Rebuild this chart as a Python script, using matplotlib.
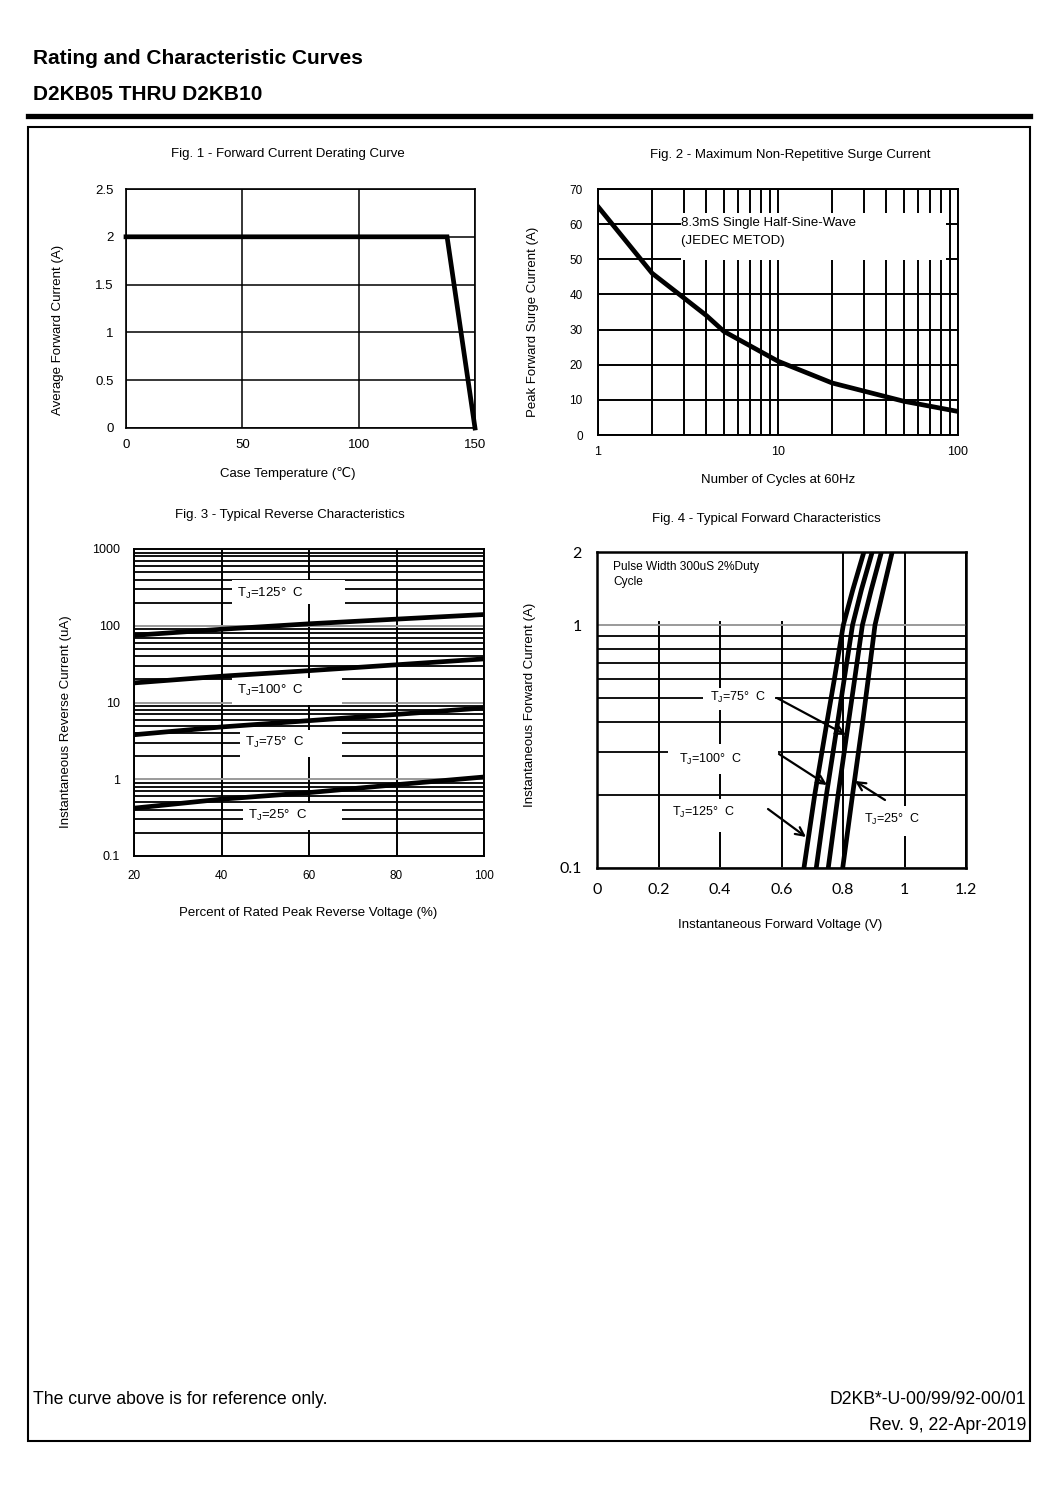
import matplotlib
matplotlib.use("Agg")
import matplotlib.pyplot as plt
from matplotlib.patches import Rectangle
from matplotlib.lines import Line2D
from matplotlib.ticker import FixedLocator, FixedFormatter, LogLocator, NullFormatter

plt.rcParams['font.family'] = ['Liberation Sans', 'DejaVu Sans']
plt.rcParams['mathtext.fontset'] = 'custom'
plt.rcParams['mathtext.rm'] = 'Liberation Sans'

# ---------------- data ----------------
fig1_temp = [0, 138, 150]
fig1_current = [2.0, 2.0, 0.0]

fig2_cycles = [1, 2, 3, 4, 5, 10, 20, 50, 100]
fig2_current = [65, 46, 39, 34, 29.5, 21, 14.8, 9.6, 6.7]

fig3_pct = [20, 40, 60, 80, 100]
fig3_ir_125 = [75, 90, 106, 122, 140]
fig3_ir_100 = [18, 22, 26, 31, 37]
fig3_ir_75 = [3.8, 4.8, 5.8, 7.0, 8.5]
fig3_ir_25 = [0.42, 0.55, 0.67, 0.85, 1.07]

fig4_if = [0.1, 0.2, 0.4, 0.6, 1.0, 1.4, 2.0]
fig4_vf_125 = [0.673, 0.708, 0.748, 0.772, 0.801, 0.832, 0.868]
fig4_vf_100 = [0.713, 0.746, 0.783, 0.804, 0.831, 0.860, 0.895]
fig4_vf_75 = [0.752, 0.784, 0.818, 0.838, 0.863, 0.892, 0.925]
fig4_vf_25 = [0.799, 0.831, 0.864, 0.882, 0.904, 0.931, 0.960]

fig1_xticks = [0, 50, 100, 150]
fig1_yticks = [0, 0.5, 1, 1.5, 2, 2.5]
fig1_yticklabels = ["0", "0.5", "1", "1.5", "2", "2.5"]
fig2_xticks = [1, 10, 100]
fig2_yticks = [0, 10, 20, 30, 40, 50, 60, 70]
fig3_xticks = [20, 40, 60, 80, 100]
fig3_yticks = [0.1, 1, 10, 100, 1000]
fig3_yticklabels = ["0.1", "1", "10", "100", "1000"]
fig4_xticks = [0, 0.2, 0.4, 0.6, 0.8, 1.0, 1.2]
fig4_xticklabels = ["0", "0.2", "0.4", "0.6", "0.8", "1", "1.2"]
fig4_yticks = [0.1, 1, 2]
fig4_yticklabels = ["0.1", "1", "2"]

# ---------------- figure ----------------
W, H = 1060, 1498
fig = plt.figure(figsize=(W / 100, H / 100), dpi=100)


def fx(px):
    return px / W


def fy(py):
    return 1 - py / H


def add_ax(box):
    l, t, r, b = box
    return fig.add_axes([l / W, 1 - b / H, (r - l) / W, (b - t) / H])


def axfrac(box, px, py):
    l, t, r, b = box
    return ((px - l) / (r - l), (b - py) / (b - t))


def white_box(ax, box, x0, y0, x1, y1):
    fx0, fy1 = axfrac(box, x0, y1)
    fx1, fy0 = axfrac(box, x1, y0)
    ax.add_patch(Rectangle((fx0, fy1), fx1 - fx0, fy0 - fy1, transform=ax.transAxes,
                           facecolor='white', edgecolor='none', zorder=1.5))


def tj(t):
    return r"T$_{\mathregular{J}}$=" + t + "°  C"


BLACK = '#000000'
GRAY = '#9a9a9a'
CURVE_LW = 3.4

# page header
fig.text(fx(33), fy(58), "Rating and Characteristic Curves", fontsize=15,
         fontweight='bold', va='center', ha='left')
fig.text(fx(33), fy(94), "D2KB05 THRU D2KB10", fontsize=15,
         fontweight='bold', va='center', ha='left')
fig.add_artist(Line2D([fx(28), fx(1030)], [fy(115.5), fy(115.5)], lw=3.8, color='k'))
fig.add_artist(Rectangle((fx(28), fy(1441)), (1030 - 28) / W, (1441 - 127) / H,
                         fill=False, lw=1.5, edgecolor='k', transform=fig.transFigure))

# footer
fig.text(fx(33), fy(1400), "The curve above is for reference only.", fontsize=12.7,
         va='center', ha='left')
fig.text(fx(1026), fy(1400), "D2KB*-U-00/99/92-00/01", fontsize=12.7, va='center', ha='right')
fig.text(fx(1026), fy(1426), "Rev. 9, 22-Apr-2019", fontsize=12.7, va='center', ha='right')

# ---------------- Fig 1 ----------------
box1 = (126, 189, 475, 428)
ax1 = add_ax(box1)
ax1.set_axisbelow(True)
ax1.plot(fig1_temp, fig1_current, color='k', lw=CURVE_LW, solid_joinstyle='miter', zorder=3,
         clip_on=False)
ax1.set_xlim(0, 150)
ax1.set_ylim(0, 2.5)
ax1.xaxis.set_major_locator(FixedLocator(fig1_xticks))
ax1.yaxis.set_major_locator(FixedLocator(fig1_yticks))
ax1.yaxis.set_major_formatter(FixedFormatter(fig1_yticklabels))
ax1.grid(True, color=BLACK, lw=1.1)
ax1.tick_params(length=0, labelsize=9.5)
ax1.tick_params(axis='y', pad=9)
ax1.tick_params(axis='x', pad=8)
for s in ax1.spines.values():
    s.set_linewidth(1.2)
fig.text(fx(288), fy(154), "Fig. 1 - Forward Current Derating Curve", fontsize=9.5,
         ha='center', va='center')
fig.text(fx(288), fy(474), "Case Temperature (℃)", fontsize=9.5, ha='center', va='center')
fig.text(fx(58), fy(330), "Average Forward Current (A)", fontsize=9.5, ha='center',
         va='center', rotation=90)

# ---------------- Fig 2 ----------------
box2 = (598, 189, 958, 435)
ax2 = add_ax(box2)
ax2.set_axisbelow(True)
ax2.set_xscale('log')
ax2.plot(fig2_cycles, fig2_current, color='k', lw=CURVE_LW, zorder=3)
ax2.set_xlim(1, 100)
ax2.set_ylim(0, 70)
ax2.xaxis.set_major_locator(FixedLocator(fig2_xticks))
ax2.xaxis.set_major_formatter(FixedFormatter([str(v) for v in fig2_xticks]))
ax2.xaxis.set_minor_locator(LogLocator(base=10, subs=[2, 3, 4, 5, 6, 7, 8, 9]))
ax2.xaxis.set_minor_formatter(NullFormatter())
ax2.yaxis.set_major_locator(FixedLocator(fig2_yticks))
ax2.grid(True, which='both', color=BLACK, lw=1.4)
ax2.tick_params(which='both', length=0, labelsize=8.5)
ax2.tick_params(axis='y', pad=11)
ax2.tick_params(axis='x', pad=8, labelsize=9)
for s in ax2.spines.values():
    s.set_linewidth(1.4)
white_box(ax2, box2, 681, 213, 946, 260)
ax2.text(*axfrac(box2, 681, 223), "8.3mS Single Half-Sine-Wave", transform=ax2.transAxes,
         fontsize=9.5, ha='left', va='center', zorder=4)
ax2.text(*axfrac(box2, 681, 241), "(JEDEC METOD)", transform=ax2.transAxes,
         fontsize=9.5, ha='left', va='center', zorder=4)
fig.text(fx(790), fy(155), "Fig. 2 - Maximum Non-Repetitive Surge Current", fontsize=9.5,
         ha='center', va='center')
fig.text(fx(778), fy(480), "Number of Cycles at 60Hz", fontsize=9.5, ha='center', va='center')
fig.text(fx(533), fy(322), "Peak Forward Surge Current (A)", fontsize=9.5, ha='center',
         va='center', rotation=90)

# ---------------- Fig 3 ----------------
box3 = (134, 549, 484, 856)
ax3 = add_ax(box3)
ax3.set_axisbelow(True)
ax3.set_yscale('log')
for vals in (fig3_ir_125, fig3_ir_100, fig3_ir_75, fig3_ir_25):
    ax3.plot(fig3_pct, vals, color='k', lw=CURVE_LW, zorder=3)
ax3.set_xlim(20, 100)
ax3.set_ylim(0.1, 1000)
ax3.xaxis.set_major_locator(FixedLocator(fig3_xticks))
ax3.yaxis.set_major_locator(FixedLocator(fig3_yticks))
ax3.yaxis.set_major_formatter(FixedFormatter(fig3_yticklabels))
ax3.yaxis.set_minor_locator(LogLocator(base=10, subs=[2, 3, 4, 5, 6, 7, 8, 9]))
ax3.yaxis.set_minor_formatter(NullFormatter())
ax3.grid(True, axis='x', which='major', color=BLACK, lw=1.4)
ax3.grid(True, axis='y', which='major', color=GRAY, lw=1.4)
ax3.grid(True, axis='y', which='minor', color=BLACK, lw=1.3)
ax3.tick_params(which='both', length=0, labelsize=9)
ax3.tick_params(axis='y', pad=10)
ax3.tick_params(axis='x', pad=10, labelsize=8.5)
for s in ax3.spines.values():
    s.set_linewidth(1.4)
fig3_labels = [("125", 232, 580, 345, 604, 237, 593),
               ("100", 232, 678, 342, 705, 237, 690),
               ("75", 240, 730, 342, 757, 245, 742),
               ("25", 243, 803, 342, 830, 248, 815)]
for t, x0, y0, x1, y1, tx, ty in fig3_labels:
    white_box(ax3, box3, x0, y0, x1, y1)
    ax3.text(*axfrac(box3, tx, ty), tj(t), transform=ax3.transAxes, fontsize=9.5,
             ha='left', va='center', zorder=4)
fig.text(fx(290), fy(515), "Fig. 3 - Typical Reverse Characteristics", fontsize=9.5,
         ha='center', va='center')
fig.text(fx(308), fy(913), "Percent of Rated Peak Reverse Voltage (%)", fontsize=9.5,
         ha='center', va='center')
fig.text(fx(66), fy(722), "Instantaneous Reverse Current (uA)", fontsize=9.5, ha='center',
         va='center', rotation=90)

# ---------------- Fig 4 ----------------
box4 = (597, 552, 966, 868)
ax4 = add_ax(box4)
ax4.set_axisbelow(True)
ax4.set_yscale('log')
for vals in (fig4_vf_125, fig4_vf_100, fig4_vf_75, fig4_vf_25):
    ax4.plot(vals, fig4_if, color='k', lw=CURVE_LW, zorder=3, solid_joinstyle='round')
ax4.set_xlim(0, 1.2)
ax4.set_ylim(0.1, 2)
ax4.xaxis.set_major_locator(FixedLocator(fig4_xticks))
ax4.xaxis.set_major_formatter(FixedFormatter(fig4_xticklabels))
ax4.yaxis.set_major_locator(FixedLocator(fig4_yticks))
ax4.yaxis.set_major_formatter(FixedFormatter(fig4_yticklabels))
ax4.yaxis.set_minor_locator(LogLocator(base=10, subs=[2, 3, 4, 5, 6, 7, 8, 9]))
ax4.yaxis.set_minor_formatter(NullFormatter())
ax4.grid(True, axis='x', which='major', color=BLACK, lw=1.4)
ax4.grid(True, axis='y', which='major', color=GRAY, lw=1.4)
ax4.grid(True, axis='y', which='minor', color=BLACK, lw=1.3)
ax4.tick_params(which='both', length=0, labelsize=11.5)
for lab in ax4.get_xticklabels() + ax4.get_yticklabels():
    lab.set_fontfamily(['Lato', 'DejaVu Sans'])
ax4.tick_params(axis='y', pad=11)
ax4.tick_params(axis='x', pad=11)
for s in ax4.spines.values():
    s.set_linewidth(1.8)
white_box(ax4, box4, 598, 553, 800, 621)
ax4.text(*axfrac(box4, 613, 567), "Pulse Width 300uS 2%Duty", transform=ax4.transAxes,
         fontsize=8.6, ha='left', va='center', zorder=4)
ax4.text(*axfrac(box4, 613, 582), "Cycle", transform=ax4.transAxes,
         fontsize=8.6, ha='left', va='center', zorder=4)
fig4_labels = [("75", 703, 688, 775, 710, 710, 697, (777, 698), (846, 735)),
               ("100", 668, 744, 778, 774, 679, 759, (779, 754), (827, 785)),
               ("125", 668, 799, 764, 832, 672, 812, (768, 809), (806, 837)),
               ("25", 860, 806, 936, 836, 864, 819, (885, 800), (855, 781))]
for t, x0, y0, x1, y1, tx, ty, p0, p1 in fig4_labels:
    white_box(ax4, box4, x0, y0, x1, y1)
    ax4.text(*axfrac(box4, tx, ty), tj(t), transform=ax4.transAxes, fontsize=9,
             ha='left', va='center', zorder=4)
    ax4.annotate("", xy=(fx(p1[0]), fy(p1[1])), xytext=(fx(p0[0]), fy(p0[1])),
                 xycoords='figure fraction', textcoords='figure fraction',
                 arrowprops=dict(arrowstyle='->,head_length=0.6,head_width=0.3', lw=1.6,
                                 color='k', shrinkA=0, shrinkB=0), zorder=5)
fig.text(fx(766), fy(519), "Fig. 4 - Typical Forward Characteristics", fontsize=9.5,
         ha='center', va='center')
fig.text(fx(780), fy(925), "Instantaneous Forward Voltage (V)", fontsize=9.5,
         ha='center', va='center')
fig.text(fx(530), fy(705), "Instantaneous Forward Current (A)", fontsize=9.5, ha='center',
         va='center', rotation=90)

fig.savefig("out.png", dpi=100, facecolor='white')
